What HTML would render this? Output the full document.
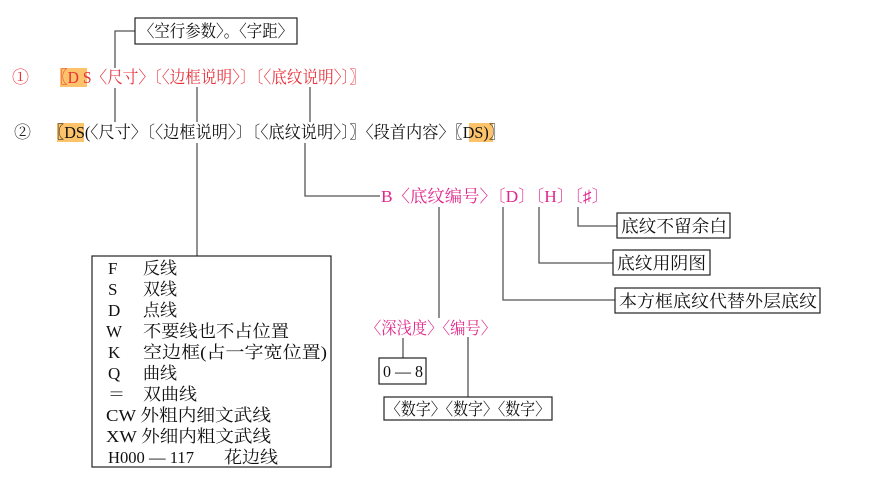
<!DOCTYPE html>
<html><head><meta charset="utf-8"><style>
html,body{margin:0;padding:0;background:#fff;width:889px;height:494px;overflow:hidden}
svg text{font-family:"Liberation Serif","Noto Serif CJK SC",serif;font-size:17px}
</style></head><body>
<svg width="889" height="494" viewBox="0 0 889 494" xmlns="http://www.w3.org/2000/svg">
<g fill="none" stroke="#555" stroke-width="1.3">
<polyline points="135,31 115,31 115,68"/>
<line x1="115" y1="88" x2="115" y2="122"/>
<line x1="197" y1="87" x2="197" y2="122"/>
<line x1="310" y1="87" x2="310" y2="122"/>
<line x1="197" y1="143" x2="197" y2="256"/>
<polyline points="305,143 305,196 380,196"/>
<polyline points="578,207 578,226 617,226"/>
<polyline points="539,207 539,263 613,263"/>
<polyline points="503,207 503,300 615,300"/>
<line x1="439" y1="207" x2="439" y2="318"/>
<line x1="403" y1="338" x2="403" y2="358"/>
<line x1="468" y1="337" x2="468" y2="397"/>
</g>
<g fill="none" stroke="#222" stroke-width="1.2">
<rect x="135" y="18" width="162" height="26"/>
<rect x="92" y="256" width="239" height="211"/>
<rect x="617" y="213" width="113" height="25"/>
<rect x="613" y="250" width="97" height="25"/>
<rect x="615" y="288" width="205" height="25"/>
<rect x="379" y="358" width="47" height="26"/>
<rect x="384" y="397" width="168" height="23"/>
</g>
<rect x="60" y="68" width="27" height="19" fill="#fcc36a"/>
<rect x="57" y="123" width="27" height="19" fill="#fcc36a"/>
<rect x="469" y="123" width="24" height="19" fill="#fcc36a"/>
<text x="139" y="37" textLength="154" lengthAdjust="spacingAndGlyphs" fill="#111">〈空行参数〉。〈字距〉</text>
<text x="12" y="83" fill="#e8303a">①</text>
<text x="52" y="83" textLength="313" lengthAdjust="spacingAndGlyphs" fill="#e8303a">〖D S〈尺寸〉〔〈边框说明〉〕〔〈底纹说明〉〕〗</text>
<text x="14" y="138" fill="#222">②</text>
<text x="48" y="138" textLength="457" lengthAdjust="spacingAndGlyphs" fill="#111">〖DS(〈尺寸〉〔〈边框说明〉〕〔〈底纹说明〉〕〗〈段首内容〉〖DS)〗</text>
<text x="381" y="202" textLength="228" lengthAdjust="spacingAndGlyphs" fill="#e0288c">B〈底纹编号〉〔D〕〔H〕〔♯〕</text>
<text x="621" y="232" textLength="106" lengthAdjust="spacingAndGlyphs" fill="#111">底纹不留余白</text>
<text x="617" y="269" textLength="89" lengthAdjust="spacingAndGlyphs" fill="#111">底纹用阴图</text>
<text x="619" y="307" textLength="198" lengthAdjust="spacingAndGlyphs" fill="#111">本方框底纹代替外层底纹</text>
<text x="366" y="334" textLength="130" lengthAdjust="spacingAndGlyphs" fill="#e0288c">〈深浅度〉〈编号〉</text>
<text x="383" y="377" textLength="40" lengthAdjust="spacingAndGlyphs" fill="#111">0 — 8</text>
<text x="386" y="415" textLength="164" lengthAdjust="spacingAndGlyphs" fill="#111">〈数字〉〈数字〉〈数字〉</text>
<g fill="#111">
<text x="108" y="274">F</text><text x="143" y="274">反线</text>
<text x="108" y="295">S</text><text x="143" y="295">双线</text>
<text x="108" y="316">D</text><text x="143" y="316">点线</text>
<text x="106" y="337">W</text><text x="143" y="337" textLength="146" lengthAdjust="spacingAndGlyphs">不要线也不占位置</text>
<text x="108" y="358">K</text><text x="143" y="358" textLength="184" lengthAdjust="spacingAndGlyphs">空边框(占一字宽位置)</text>
<text x="108" y="379">Q</text><text x="143" y="379">曲线</text>
<text x="108" y="400">＝</text><text x="143" y="400" textLength="54" lengthAdjust="spacingAndGlyphs">双曲线</text>
<text x="106" y="421" textLength="165" lengthAdjust="spacingAndGlyphs">CW 外粗内细文武线</text>
<text x="106" y="442" textLength="165" lengthAdjust="spacingAndGlyphs">XW 外细内粗文武线</text>
<text x="108" y="463" textLength="86" lengthAdjust="spacingAndGlyphs">H000 — 117</text><text x="224" y="463" textLength="54" lengthAdjust="spacingAndGlyphs">花边线</text>
</g>
</svg>
</body></html>
